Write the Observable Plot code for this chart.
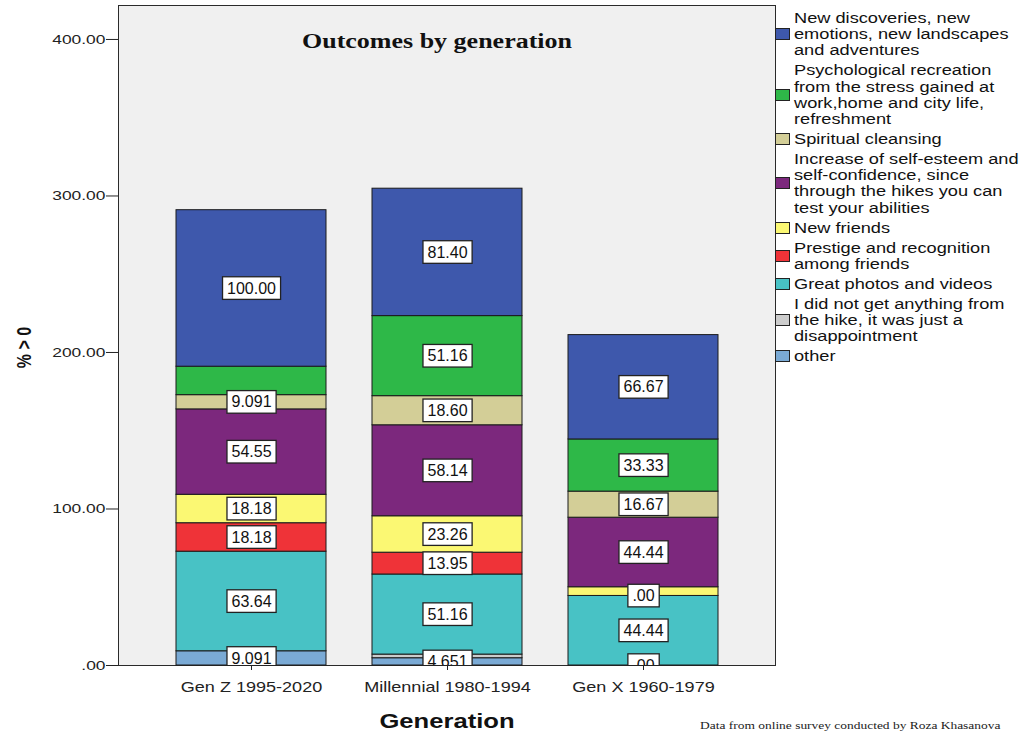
<!DOCTYPE html>
<html>
<head>
<meta charset="utf-8">
<script src="https://cdn.jsdelivr.net/npm/d3@7"></script>
<script src="https://cdn.jsdelivr.net/npm/@observablehq/plot@0.6"></script>
<style>
  html, body { margin: 0; padding: 0; background: #fff; overflow: hidden; }
  #wrap { position: relative; width: 1027px; height: 735px; }
  #wrap svg { position: absolute; left: 0; top: 0; }
  #legend { position: absolute; left: 775px; top: 10px; font-family: "Liberation Sans", Arial, sans-serif; font-size: 14px; color: #111; }
  .item { display: flex; align-items: center; margin-bottom: 3.8px; }
  .sw { width: 15px; height: 12px; border: 1px solid #222; box-sizing: border-box; flex: none; }
  .lab { margin-left: 4px; line-height: 16.2px; white-space: nowrap; transform: scaleX(1.3); transform-origin: left center; }
  #caption { position: absolute; left: 700px; top: 720px; font-family: "Liberation Serif", "Times New Roman", serif; font-size: 10.5px; color: #222; white-space: nowrap; transform: scaleX(1.28); transform-origin: left center; }
</style>
</head>
<body>
<div id="wrap">
  <div id="legend"></div>
  <div id="caption">Data from online survey conducted by Roza Khasanova</div>
</div>
<script>
// Generations on the x axis
const generations = ["Gen Z 1995-2020", "Millennial 1980-1994", "Gen X 1960-1979"];

// Outcome categories, bottom of the stack first ("\n" = legend line break)
const outcomes = [
  "other",
  "I did not get anything from\nthe hike, it was just a\ndisappointment",
  "Great photos and videos",
  "Prestige and recognition\namong friends",
  "New friends",
  "Increase of self-esteem and\nself-confidence, since\nthrough the hikes you can\ntest your abilities",
  "Spiritual cleansing",
  "Psychological recreation\nfrom the stress gained at\nwork,home and city life,\nrefreshment",
  "New discoveries, new\nemotions, new landscapes\nand adventures"
];

const colors = ["#7aaad5", "#cccccc", "#48c2c5", "#ef3338", "#fbf873", "#7c287d", "#d3ce97", "#2eb848", "#3e58ac"];

// Percent of respondents naming each outcome, same order as outcomes
const genZ       = [9.091, 0,     63.64, 18.18, 18.18, 54.55, 9.091, 18.18, 100.00];
const millennial = [4.651, 2.326, 51.16, 13.95, 23.26, 58.14, 18.60, 51.16, 81.40];
const genX       = [0,     0,     44.44, 0,     5.556, 44.44, 16.67, 33.33, 66.67];

// Segments that carry a value box
const boxedGenZ       = [true, false, true, true, true,  true, true, false, true];
const boxedMillennial = [true, false, true, true, true,  true, true, true,  true];
const boxedGenX       = [true, false, true, true, false, true, true, true,  true];

const yTicks = [0, 100, 200, 300, 400];

const keys = outcomes.map(o => o.replace(/\n/g, " "));
const series = [genZ, millennial, genX];
const boxed = [boxedGenZ, boxedMillennial, boxedGenX];

const rows = [];
generations.forEach((g, gi) => {
  keys.forEach((k, ki) => {
    rows.push({generation: g, outcome: k, value: series[gi][ki], boxed: boxed[gi][ki]});
  });
});

const fmt = v => v === 0 ? ".00" : (v < 10 ? v.toFixed(3) : v.toFixed(2));

const plot = Plot.plot({
  width: 1027,
  height: 735,
  marginLeft: 118,
  marginRight: 252,
  marginTop: 5,
  marginBottom: 70,
  style: {fontFamily: '"Liberation Sans", Arial, sans-serif', background: "transparent", color: "#222"},
  x: {domain: generations, paddingInner: 0.235, paddingOuter: 0.2935},
  y: {domain: [0, 421.7]},
  color: {domain: keys, range: colors},
  marks: [
    Plot.frame({fill: "#f0f0f0", stroke: "#2a2a2a"}),
    Plot.barY(rows, {x: "generation", y: "value", z: "outcome", fill: "outcome", order: keys, stroke: "#1a1a1a", strokeWidth: 1}),
    Plot.text(rows, Plot.stackY({
      x: "generation", y: "value", z: "outcome", order: keys,
      text: d => d.boxed ? fmt(d.value) : null,
      fill: "#111", fontSize: 16, clip: true
    })),
    Plot.text(["Outcomes by generation"], {
      frameAnchor: "top", dy: 28, dx: -10,
      fontFamily: '"Liberation Serif", "Times New Roman", serif', fontWeight: "bold", fontSize: 20, fill: "#111"
    }),
    Plot.axisY({
      ticks: yTicks, tickFormat: fmt, tickSize: 12, tickPadding: 1, fontSize: 13.5,
      label: "% > 0", labelAnchor: "center", labelOffset: 102, labelArrow: false
    }),
    Plot.axisX({
      tickSize: 5, tickPadding: 12, fontSize: 14,
      label: "Generation", labelAnchor: "center", labelOffset: 62, labelArrow: false
    })
  ]
});

document.getElementById("wrap").prepend(plot);

const svg = d3.select(plot);

// Horizontally widen text glyphs about their anchor points
function widen(sel, sx, sy = 1, shift = 0) {
  sel.each(function () {
    const t = d3.select(this);
    const x = +t.attr("x") || 0, y = +t.attr("y") || 0;
    const tr = t.attr("transform") || "";
    t.attr("transform", `${tr} translate(${x + shift},${y}) scale(${sx},${sy}) translate(${-x},${-y})`);
  });
}

svg.selectAll('g[aria-label="x-axis label"], g[aria-label="x-axis label"] text')
  .style("font-size", "20px").style("font-weight", "bold").style("fill", "#111");
svg.selectAll('g[aria-label="y-axis label"], g[aria-label="y-axis label"] text')
  .style("font-size", "16px").style("font-weight", "bold").style("fill", "#111");

widen(svg.selectAll('g[aria-label="x-axis tick label"] text'), 1.29);
widen(svg.selectAll('g[aria-label="y-axis tick label"] text'), 1.29);
widen(svg.selectAll('g[aria-label="x-axis label"] text'), 1.28);
// the rotated label runs upward; a negative shift moves it down the page
widen(svg.selectAll('g[aria-label="y-axis label"] text'), 1, 1.3, -12);

const textGroups = svg.selectAll('g[aria-label="text"]').nodes();
widen(d3.select(textGroups[1]).selectAll("text"), 1.3);

// White boxes behind the segment values
d3.select(textGroups[0]).selectAll("text").each(function () {
  const b = this.getBBox();
  const r = document.createElementNS("http://www.w3.org/2000/svg", "rect");
  r.setAttribute("x", b.x - 4.5);
  r.setAttribute("y", b.y - 2.8);
  r.setAttribute("width", b.width + 9);
  r.setAttribute("height", b.height + 5.6);
  r.setAttribute("fill", "#fff");
  r.setAttribute("stroke", "#222");
  r.setAttribute("stroke-width", 1.3);
  const tr = this.getAttribute("transform");
  if (tr) r.setAttribute("transform", tr);
  this.parentNode.insertBefore(r, this);
});

// Legend, top of the stack first
const legend = d3.select("#legend");
outcomes.slice().reverse().forEach((o, i) => {
  const idx = outcomes.length - 1 - i;
  const item = legend.append("div").attr("class", "item");
  item.append("div").attr("class", "sw").style("background", colors[idx]);
  item.append("div").attr("class", "lab").html(o.split("\n").join("<br>"));
});
</script>
</body>
</html>
